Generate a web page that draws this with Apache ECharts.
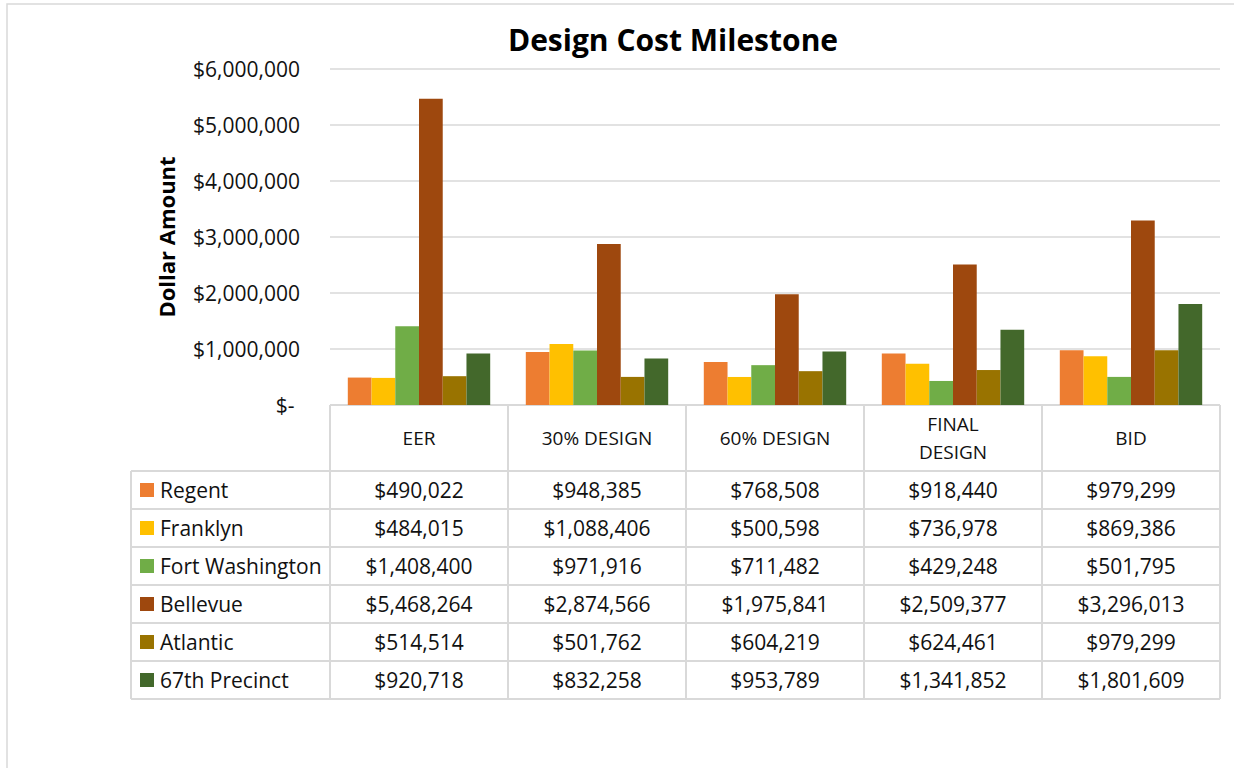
<!DOCTYPE html>
<html>
<head>
<meta charset="utf-8">
<script src="https://cdn.jsdelivr.net/npm/echarts@6/dist/echarts.min.js"></script>
<style>
  html, body { margin: 0; padding: 0; background: #ffffff; }
  #chart { width: 1234px; height: 768px; }
</style>
</head>
<body>
<div id="chart"></div>
<script>
  // data
  var categories = ['EER', '30% DESIGN', '60% DESIGN', 'FINAL\nDESIGN', 'BID'];
  var seriesNames = ['Regent', 'Franklyn', 'Fort Washington', 'Bellevue', 'Atlantic', '67th Precinct'];
  var regent = [490022, 948385, 768508, 918440, 979299];
  var franklyn = [484015, 1088406, 500598, 736978, 869386];
  var fortWashington = [1408400, 971916, 711482, 429248, 501795];
  var bellevue = [5468264, 2874566, 1975841, 2509377, 3296013];
  var atlantic = [514514, 501762, 604219, 624461, 979299];
  var precinct67 = [920718, 832258, 953789, 1341852, 1801609];
  var yTicks = [0, 1000000, 2000000, 3000000, 4000000, 5000000, 6000000];

  var seriesData = [regent, franklyn, fortWashington, bellevue, atlantic, precinct67];
  var colors = ['#ED7D31', '#FFC000', '#70AD47', '#9E480E', '#997300', '#43682B'];

  var font = 'Open Sans';
  var textColor = '#111111';
  var lineColor = '#d9d9d9';

  // plot / table geometry
  var gridLeft = 330, gridRight = 1220, gridTop = 69, gridBottom = 405;
  var tableLeft = 131;
  var headerBottom = 471, rowH = 38;

  function money(v) {
    if (v === 0) return '$-';
    return '$' + v.toLocaleString('en-US');
  }

  var dom = document.getElementById('chart');
  var myChart = echarts.init(dom, null, { renderer: 'svg' });

  var option = {
    animation: false,
    color: colors,
    title: {
      text: 'Design Cost Milestone',
      left: 668,
      top: 19,
      textAlign: 'center',
      textStyle: { fontFamily: font, fontSize: 30, fontWeight: 'bold', color: '#000' }
    },
    grid: {
      left: gridLeft,
      right: 1234 - gridRight,
      top: gridTop,
      bottom: 768 - gridBottom,
      containLabel: false
    },
    xAxis: {
      type: 'category',
      data: categories,
      axisLine: { show: false },
      axisTick: { show: false },
      axisLabel: {
        interval: 0,
        margin: 33,
        verticalAlign: 'middle',
        lineHeight: 28,
        fontFamily: font,
        fontSize: 19,
        color: textColor
      }
    },
    yAxis: {
      type: 'value',
      min: yTicks[0],
      max: yTicks[yTicks.length - 1],
      interval: yTicks[1] - yTicks[0],
      name: 'Dollar Amount',
      nameLocation: 'middle',
      nameGap: 153,
      nameTextStyle: { fontFamily: font, fontSize: 22, fontWeight: 'bold', color: '#000' },
      axisLine: { show: false },
      axisTick: { show: false },
      axisLabel: {
        margin: 30,
        fontFamily: font,
        fontSize: 21,
        color: textColor,
        formatter: function (v) { return v === 0 ? '$- ' : money(v); }
      },
      splitLine: { lineStyle: { color: lineColor, width: 1.5 } }
    },
    series: seriesNames.map(function (name, i) {
      return {
        name: name,
        type: 'bar',
        data: seriesData[i],
        barGap: '0%',
        barCategoryGap: '20%'
      };
    })
  };

  myChart.setOption(option);

  // data table under the plot, positioned from the category axis
  function buildTable() {
    var g = [];
    var nRows = seriesNames.length;
    var tableBottom = headerBottom + nRows * rowH;
    var bandW = (gridRight - gridLeft) / categories.length;
    var cellFont = '21px "' + font + '"';

    // outer frame of the chart area
    g.push({ type: 'rect', shape: { x: 7, y: 4, width: 1260, height: 800 },
      style: { fill: 'none', stroke: lineColor, lineWidth: 1.5 }, silent: true });

    // horizontal lines
    g.push({ type: 'line', shape: { x1: gridLeft, y1: gridBottom, x2: gridRight, y2: gridBottom },
      style: { stroke: lineColor, lineWidth: 2 } });
    for (var r = 0; r <= nRows; r++) {
      var y = headerBottom + r * rowH;
      g.push({ type: 'line', shape: { x1: tableLeft, y1: y, x2: gridRight, y2: y },
        style: { stroke: lineColor, lineWidth: 2 } });
    }
    // vertical lines
    g.push({ type: 'line', shape: { x1: tableLeft, y1: headerBottom, x2: tableLeft, y2: tableBottom },
      style: { stroke: lineColor, lineWidth: 2 } });
    for (var c = 0; c <= categories.length; c++) {
      var x = gridLeft + c * bandW;
      g.push({ type: 'line', shape: { x1: x, y1: gridBottom, x2: x, y2: tableBottom },
        style: { stroke: lineColor, lineWidth: 2 } });
    }

    // legend column and values
    seriesNames.forEach(function (name, i) {
      var cy = headerBottom + i * rowH + rowH / 2;
      g.push({ type: 'rect', shape: { x: 140, y: cy - 7, width: 14, height: 14 },
        style: { fill: colors[i] } });
      g.push({ type: 'text', x: 160, y: cy,
        style: { text: name, fill: textColor, font: cellFont,
          textAlign: 'left', textVerticalAlign: 'middle' } });
      seriesData[i].forEach(function (v, j) {
        var cx = myChart.convertToPixel({ xAxisIndex: 0 }, j);
        g.push({ type: 'text', x: cx, y: cy,
          style: { text: money(v), fill: textColor, font: cellFont,
            textAlign: 'center', textVerticalAlign: 'middle' } });
      });
    });
    return g;
  }

  myChart.setOption({ graphic: buildTable() });
</script>
</body>
</html>
